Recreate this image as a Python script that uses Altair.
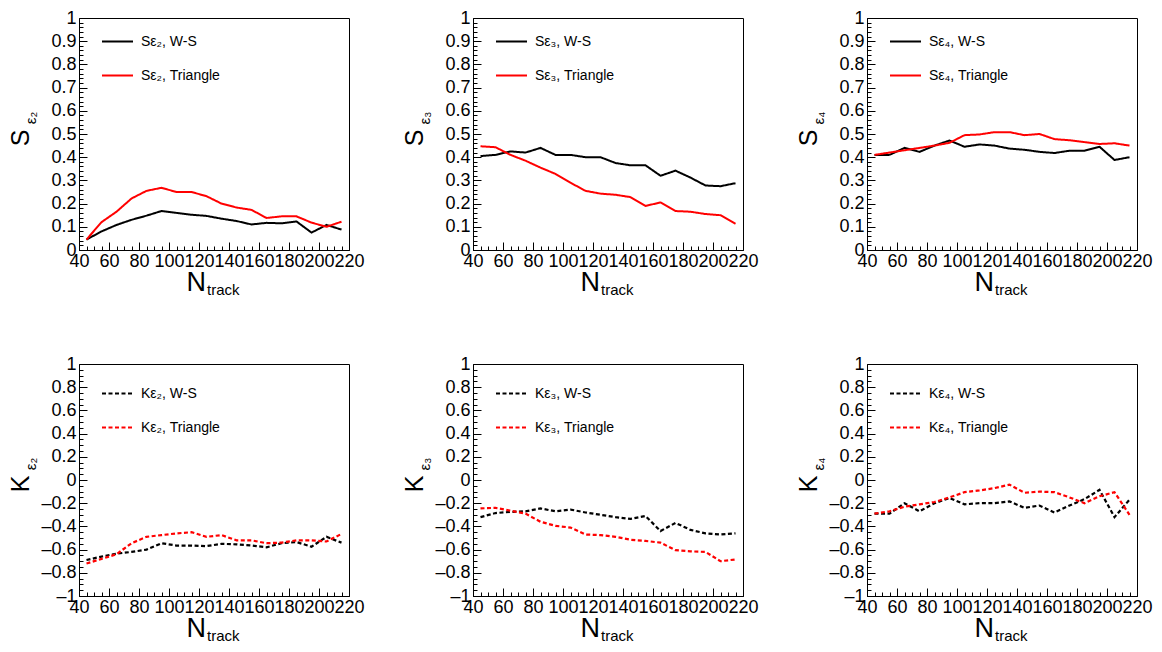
import altair as alt
import pandas as pd

# ---------------- data ----------------
ntrack = [45, 55, 65, 75, 85, 95, 105, 115, 125, 135, 145, 155, 165, 175, 185, 195, 205, 215]

s2_ws = [0.045, 0.080, 0.108, 0.130, 0.148, 0.168, 0.160, 0.152, 0.147, 0.135, 0.125, 0.110, 0.117, 0.115, 0.123, 0.075, 0.108, 0.088]
s2_tri = [0.045, 0.120, 0.165, 0.222, 0.255, 0.268, 0.250, 0.250, 0.232, 0.200, 0.183, 0.173, 0.138, 0.145, 0.145, 0.118, 0.100, 0.122]

s3_ws = [0.405, 0.410, 0.425, 0.420, 0.440, 0.410, 0.410, 0.400, 0.400, 0.375, 0.365, 0.365, 0.320, 0.342, 0.312, 0.278, 0.275, 0.288]
s3_tri = [0.447, 0.443, 0.410, 0.385, 0.355, 0.328, 0.290, 0.255, 0.243, 0.238, 0.228, 0.190, 0.205, 0.168, 0.165, 0.155, 0.150, 0.113]

s4_ws = [0.410, 0.410, 0.440, 0.423, 0.450, 0.472, 0.445, 0.455, 0.450, 0.437, 0.432, 0.423, 0.418, 0.428, 0.428, 0.445, 0.388, 0.400]
s4_tri = [0.410, 0.420, 0.430, 0.440, 0.450, 0.462, 0.495, 0.498, 0.508, 0.508, 0.495, 0.500, 0.478, 0.473, 0.465, 0.457, 0.460, 0.450]

k2_ws = [-0.690, -0.660, -0.635, -0.620, -0.600, -0.545, -0.565, -0.565, -0.570, -0.550, -0.555, -0.565, -0.580, -0.545, -0.535, -0.575, -0.490, -0.540]
k2_tri = [-0.720, -0.680, -0.640, -0.545, -0.490, -0.475, -0.460, -0.450, -0.490, -0.475, -0.520, -0.520, -0.545, -0.540, -0.520, -0.520, -0.530, -0.465]

k3_ws = [-0.320, -0.285, -0.275, -0.270, -0.245, -0.270, -0.255, -0.280, -0.300, -0.320, -0.335, -0.310, -0.440, -0.370, -0.430, -0.460, -0.470, -0.460]
k3_tri = [-0.245, -0.240, -0.265, -0.290, -0.360, -0.395, -0.410, -0.470, -0.475, -0.490, -0.515, -0.525, -0.540, -0.605, -0.615, -0.620, -0.700, -0.685]

k4_ws = [-0.290, -0.290, -0.200, -0.270, -0.200, -0.155, -0.210, -0.200, -0.200, -0.185, -0.240, -0.220, -0.280, -0.220, -0.165, -0.085, -0.320, -0.170]
k4_tri = [-0.290, -0.270, -0.230, -0.210, -0.190, -0.150, -0.105, -0.090, -0.070, -0.040, -0.110, -0.100, -0.105, -0.150, -0.200, -0.140, -0.105, -0.300]

series_names = ["W-S", "Triangle"]
subscripts = {2: "\u2082", 3: "\u2083", 4: "\u2084"}

x_label_values = [40, 60, 80, 100, 120, 140, 160, 180, 200, 220]
x_minor_values = list(range(40, 221, 5))
s_label_values = [0, 0.1, 0.2, 0.3, 0.4, 0.5, 0.6, 0.7, 0.8, 0.9, 1]
s_minor_values = [round(i * 0.02, 2) for i in range(51)]
k_label_values = [-1, -0.8, -0.6, -0.4, -0.2, 0, 0.2, 0.4, 0.6, 0.8, 1]
k_minor_values = [round(-1 + i * 0.05, 2) for i in range(41)]

W, H = 270, 232
FONT = "Liberation Sans"


def panel(letter, n, ws, tri, dashed):
    lab_ws = f"{letter}\u03b5{subscripts[n]}, {series_names[0]}"
    lab_tri = f"{letter}\u03b5{subscripts[n]}, {series_names[1]}"
    df = pd.DataFrame({
        "x": ntrack + ntrack,
        "v": ws + tri,
        "s": [lab_ws] * len(ws) + [lab_tri] * len(tri),
    })
    if letter == "S":
        dom = [0, 1]
        labvals, minvals = s_label_values, s_minor_values
        leg_y = 7
    else:
        dom = [-1, 1]
        labvals, minvals = k_label_values, k_minor_values
        leg_y = 13
    xs = alt.Scale(domain=[40, 220], nice=False, zero=False)
    ys = alt.Scale(domain=dom, nice=False, zero=False)
    base = alt.Chart(df)
    dash = [4, 2.5] if dashed else [1, 0]
    line = base.mark_line(strokeWidth=2.2 if dashed else 2, strokeDash=dash).encode(
        x=alt.X("x:Q", scale=xs, axis=alt.Axis(
            values=x_label_values, ticks=False, domain=False, grid=False, title=None,
            labelFontSize=18, labelFont=FONT, labelPadding=2, labelFlush=False,
            labelOverlap=False, labelColor="black", format="d")),
        y=alt.Y("v:Q", scale=ys, axis=alt.Axis(
            values=labvals, ticks=False, domain=False, grid=False, title=None,
            labelFontSize=18, labelFont=FONT, labelPadding=3, labelColor="black",
            labelOverlap=False,
            labelExpr="(datum.value < 0 ? '\u2013' : '') + format(abs(datum.value), '~g')")),
        color=alt.Color("s:N", scale=alt.Scale(domain=[lab_ws, lab_tri], range=["black", "#ff0000"]),
                        legend=alt.Legend(orient="none", legendX=22, legendY=leg_y, title=None,
                                          symbolType="stroke", symbolSize=961, symbolStrokeWidth=2,
                                          symbolDash=dash, labelFontSize=14, labelFont=FONT,
                                          labelColor="black", labelOffset=7, rowPadding=10, padding=0)),
    )
    minor = base.mark_line(opacity=0).encode(
        x=alt.X("x:Q", scale=xs, axis=alt.Axis(
            orient="top", offset=-H, values=x_minor_values, labels=False, domain=False,
            grid=False, tickSize=4, tickColor="black", title=None)),
        y=alt.Y("v:Q", scale=ys, axis=alt.Axis(
            orient="right", offset=-W, values=minvals, labels=False, domain=False,
            grid=False, tickSize=4, tickColor="black", title=None)),
    )
    major = base.mark_line(opacity=0).encode(
        x=alt.X("x:Q", scale=xs, axis=alt.Axis(
            orient="top", offset=-H, values=x_label_values, labels=False, domain=False,
            grid=False, tickSize=8, tickColor="black", title=None)),
        y=alt.Y("v:Q", scale=ys, axis=alt.Axis(
            orient="right", offset=-W, values=labvals, labels=False, domain=False,
            grid=False, tickSize=8, tickColor="black", title=None)),
    )
    ttl = alt.Chart(pd.DataFrame({"t": [letter]})).mark_text(
        fontSize=25, font=FONT, angle=270, align="center", baseline="middle", color="black"
    ).encode(text="t:N", x=alt.value(-58), y=alt.value(120))
    ttl_sub = alt.Chart(pd.DataFrame({"t": ["\u03b5" + subscripts[n]]})).mark_text(
        fontSize=15, font=FONT, angle=270, align="center", baseline="middle", color="black"
    ).encode(text="t:N", x=alt.value(-48), y=alt.value(100))
    xt = alt.Chart(pd.DataFrame({"t": ["N"]})).mark_text(
        fontSize=27, font=FONT, align="right", baseline="alphabetic", color="black"
    ).encode(text="t:N", x=alt.value(W / 2 - 8), y=alt.value(H + 41))
    xt_sub = alt.Chart(pd.DataFrame({"t": ["track"]})).mark_text(
        fontSize=15, font=FONT, align="left", baseline="alphabetic", color="black"
    ).encode(text="t:N", x=alt.value(W / 2 - 7), y=alt.value(H + 45))
    return alt.layer(line, minor, major, ttl, ttl_sub, xt, xt_sub).resolve_axis(
        x="independent", y="independent").properties(width=W, height=H)


top = alt.hconcat(
    panel("S", 2, s2_ws, s2_tri, False),
    panel("S", 3, s3_ws, s3_tri, False),
    panel("S", 4, s4_ws, s4_tri, False),
    spacing=37,
).resolve_scale(color="independent").resolve_legend(color="independent")
bottom = alt.hconcat(
    panel("K", 2, k2_ws, k2_tri, True),
    panel("K", 3, k3_ws, k3_tri, True),
    panel("K", 4, k4_ws, k4_tri, True),
    spacing=37,
).resolve_scale(color="independent").resolve_legend(color="independent")

chart = alt.vconcat(top, bottom, spacing=55).resolve_scale(
    color="independent").resolve_legend(color="independent").properties(
    padding={"left": 0, "top": 0, "right": 0, "bottom": 0}
).configure(background="white").configure_view(stroke="black", strokeWidth=1)

chart.save("out.html", embed_options={"renderer": "svg", "actions": False})
